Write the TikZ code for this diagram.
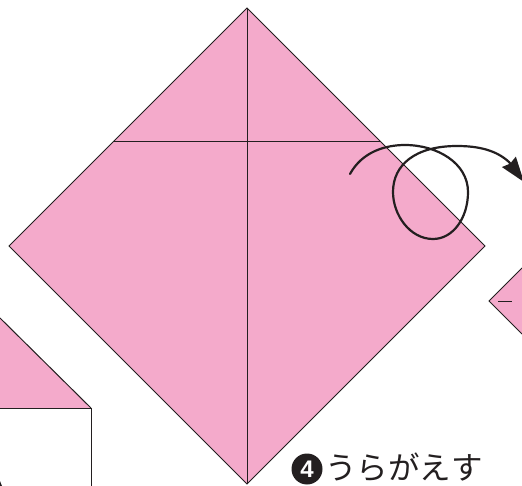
\documentclass[tikz,border=0pt]{standalone}
\usepackage{fontspec}
\setsansfont{Liberation Sans}
\newfontfamily\cjkfont{Noto Sans CJK JP}
\usetikzlibrary{arrows.meta,positioning}
\definecolor{paperpink}{HTML}{F4AACB}
\definecolor{foldink}{HTML}{231F20}
\begin{document}
\begin{tikzpicture}[
  x=1pt, y=-1pt,
  paper/.style={draw=foldink, fill=paperpink, line width=1pt, line join=miter},
  crease/.style={draw=foldink, line width=1pt},
  framebox/.style={draw=foldink, line width=1pt},
  turnarrow/.style={-{Stealth[length=25pt, width=17pt, inset=2pt]}, line width=2.2pt, draw=foldink, line cap=round},
  stepnum/.style={circle, fill=foldink, text=white, font=\sffamily\bfseries\fontsize{24}{24}\selectfont, inner sep=0pt, minimum size=31pt},
  steplabel/.style={font=\cjkfont\fontsize{31.5}{32}\selectfont, text=foldink, inner sep=0pt}
]
  \useasboundingbox (0,0) rectangle (522,486);

  % Main sheet
  \coordinate (top) at (247,8);
  \coordinate (right) at (485,246);
  \coordinate (bottom) at (247,484);
  \coordinate (left) at (9,246);
  \coordinate (foldL) at (113,142);
  \coordinate (foldR) at (381,142);
  \draw[paper] (top) -- (right) -- (bottom) -- (left) -- cycle;
  \draw[crease] (top) -- (bottom);
  \draw[crease] (foldL) -- (foldR);

  % Next sheet, cut off at the right
  \coordinate (nextA) at (522,268);
  \coordinate (nextB) at (489,301);
  \coordinate (nextC) at (522,334);
  \coordinate (dashA) at (498,301.5);
  \coordinate (dashB) at (512,301.5);
  \fill[paperpink] (nextA) -- (nextB) -- (nextC) -- cycle;
  \draw[crease] (nextA) -- (nextB) -- (nextC);
  \draw[crease] (dashA) -- (dashB);

  % Previous sheet, cut off at the left
  \coordinate (prevA) at (0,318);
  \coordinate (prevB) at (91,408);
  \coordinate (prevC) at (0,408);
  \coordinate (prevD) at (91,486);
  \fill[paperpink] (prevA) -- (prevB) -- (prevC) -- cycle;
  \draw[crease] (prevA) -- (prevB);
  \draw[framebox] (prevC) -- (prevB) -- (prevD);
  \fill[foldink] (0,481) -- (2,486) -- (0,486) -- cycle;

  % Turn-over arrow
  \draw[turnarrow] (350,174) .. controls (362,152) and (385,145) .. (405,145)
    .. controls (437,145) and (468,163) .. (468,192)
    .. controls (468,218) and (453,239) .. (433,239)
    .. controls (410,239) and (393,215) .. (393,192)
    .. controls (393,165) and (415,146) .. (457,146)
    .. controls (478,146) and (496,150) .. (509,162) -- (524,182);

  % Step label
  \node[stepnum] (num) at (307,469) {4};
  \node[steplabel, anchor=west] (turn) at (325,467) {うらがえす};
\end{tikzpicture}
\end{document}
